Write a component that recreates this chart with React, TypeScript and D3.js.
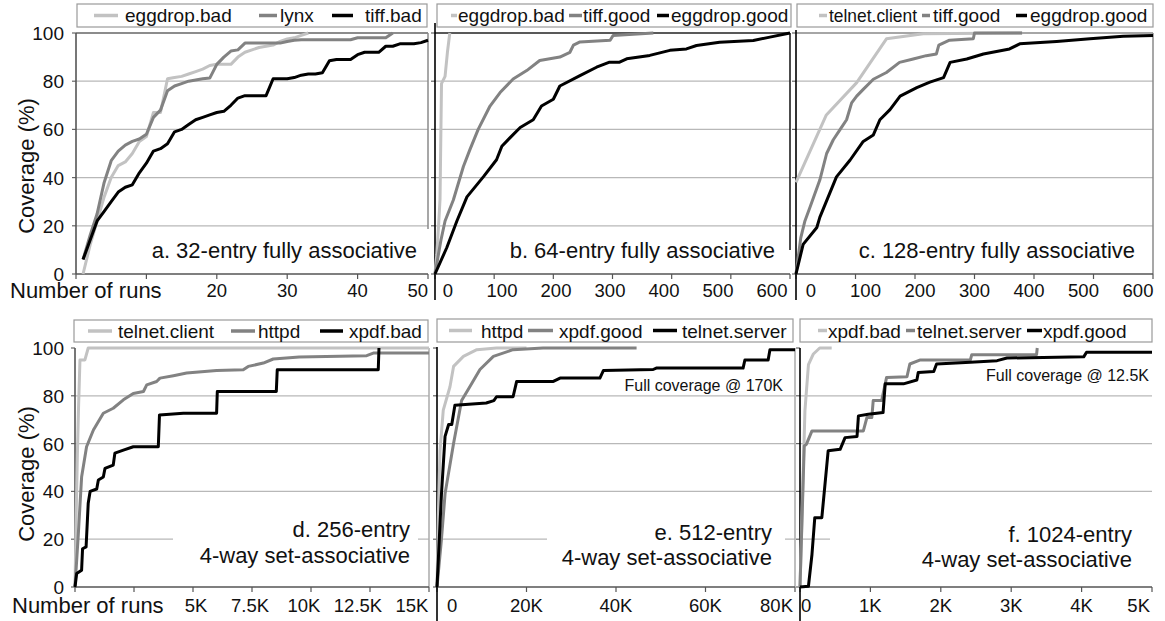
import React from "react";
import * as d3 from "d3";

type Pt = [number, number];

const C_LIGHT = "#c2c2c2";
const C_MID = "#828282";
const C_DARK = "#000000";
const seriesColors = [C_LIGHT, C_MID, C_DARK];

// ---------------- data ----------------
// a. 32-entry fully associative (x = number of runs)
const aEggdropBad: Pt[] = [[1,0],[2,12],[3,22],[4,32],[5,40],[6,45],[7,46.5],[8,50],[9,55],[10,57],[11,67],[12,67],[13,81],[14,81.5],[15,82],[16,83],[17,84],[18,85],[19,86.5],[20,87],[21,87],[22,87],[23,90],[24,92],[25,93],[26,94],[27,94.5],[28,95],[29,96.5],[30,97.5],[31,98],[32,99],[33,100]];
const aLynx: Pt[] = [[1,6],[2,16],[3,25],[4,38],[5,47],[6,51],[7,53.5],[8,55],[9,56],[10,58],[11,65],[12,68],[13,76],[14,78],[15,79],[16,80],[17,80.5],[18,81],[19,81.3],[20,87],[21,90],[22,92.5],[23,93],[24,95.8],[25,95.8],[26,95.8],[27,95.8],[28,95.8],[29,95.8],[30,96.5],[31,97],[32,97.2],[33,97.2],[34,97.2],[35,97.2],[36,97.2],[37,97.2],[38,97.2],[39,97.2],[40,98],[41,98],[42,98],[43,98],[44,98],[45,100]];
const aTiffBad: Pt[] = [[1,6],[2,14],[3,22],[4,26],[5,30],[6,34],[7,36],[8,37],[9,42],[10,46],[11,51],[12,52],[13,54],[14,59],[15,60],[16,62],[17,64],[18,65],[19,66],[20,67],[21,67.5],[22,70],[23,73],[24,74],[25,74],[26,74],[27,74],[28,81],[29,81],[30,81],[31,81.5],[32,82.5],[33,83],[34,83],[35,83.5],[36,88.5],[37,89],[38,89],[39,89],[40,91],[41,92],[42,92],[43,92],[44,94.5],[45,94.5],[46,95.5],[47,95.5],[48,95.5],[49,96],[50,97]];

// b. 64-entry fully associative
const bEggdropBad: Pt[] = [[0,0],[3,8],[6,20],[8.5,31],[10,60],[11,79],[17,82],[21,92],[25,100]];
const bTiffGood: Pt[] = [[0,0],[10,14],[17,22],[31,30.7],[48,44.6],[59,51.6],[73,60],[93,69.7],[110,75.3],[132,80.9],[155,84.4],[177,88.6],[211,90],[228,92],[234,95],[245,96.3],[296,97],[301,99],[369,100]];
const bEggdropGood: Pt[] = [[0,0],[20,11],[37,22],[54,32],[82,40.4],[104,47.4],[113,53],[127,56.6],[144,60.8],[166,64],[180,69.7],[200,72.5],[211,78],[245,82.3],[273,85.8],[295,87.9],[312,87.9],[324,89.3],[363,90.7],[397,92.8],[425,93.4],[442,94.8],[481,96.2],[538,96.9],[566,98.3],[600,100]];

// c. 128-entry fully associative
const cTelnetClient: Pt[] = [[0,38],[51,66],[102,79.4],[152,97.6],[214,99.7],[380,100]];
const cTiffGood: Pt[] = [[0,0],[8,15],[15,22],[23.5,27.7],[40,39],[51.5,50],[62.7,55.7],[74,59.9],[85,64],[93.5,71],[102,73.8],[113,76.6],[130,80.8],[152,83.6],[174,87.8],[197,89.2],[219,90.6],[236,91.3],[240,95],[258,97],[298,97.6],[300,100],[380,100]];
const cEggdropGood: Pt[] = [[0,0],[12,12.3],[35,19.3],[40,23.5],[68,40.3],[91,47.3],[113,55],[130,57.7],[141,64],[158,68.2],[175,73.8],[203,77.3],[225,79.6],[248,81.5],[259,87.8],[287,89.2],[315,91.3],[359,93.4],[376,95.5],[438,96.5],[494,97.6],[550,98.7],[600,99]];

// d. 256-entry 4-way set-associative
const dTelnetClient: Pt[] = [[0,0],[50,30],[100,55],[150,75],[210,95],[420,95],[560,100],[15000,100]];
const dHttpd: Pt[] = [[0,0],[140,22],[280,46],[490,58.7],[780,65.7],[1200,72.7],[1620,74.8],[2050,78.3],[2470,81],[2900,81.8],[3040,84.6],[3460,86],[3600,87.4],[4170,88.4],[4730,89.5],[6000,90.6],[7130,90.9],[7340,92.3],[7980,93.7],[8400,95.4],[9500,96.2],[12360,96.8],[12640,97.9],[15000,97.9]];
const dXpdfBad: Pt[] = [[0,0],[70,5.6],[280,7],[320,16],[470,16.8],[560,35],[640,40],[920,41],[990,44.8],[1200,46],[1270,49.6],[1620,51],[1690,56],[2050,57.3],[2470,58.7],[3530,58.7],[3580,72],[4590,72.7],[6000,72.7],[6030,81.8],[8530,81.8],[8570,90.9],[12850,90.9],[12880,100]];

// e. 512-entry 4-way set-associative
const eHttpd: Pt[] = [[0,0],[300,30],[670,57],[1400,74],[2900,83.8],[3700,92.3],[5900,96.5],[8900,99.3],[13300,100],[20000,100]];
const eXpdfGood: Pt[] = [[0,0],[1000,20],[1800,39],[3700,60],[5500,78],[7400,84],[9600,91],[12600,96.5],[17000,99.3],[23700,100],[44600,100]];
const eTelnetServer: Pt[] = [[0,0],[1000,39],[1800,63],[2600,68],[3300,68],[4000,76],[11000,77],[12700,78],[13300,79.6],[17000,79.6],[17800,86],[26000,86],[27500,87.4],[36400,87.4],[37200,90.6],[48300,91],[49000,91.6],[68400,91.6],[68800,95],[74000,95],[74400,99.3],[80000,99.3]];

// f. 1024-entry 4-way set-associative
const fXpdfBad: Pt[] = [[0,0],[70,73.7],[120,93],[190,97.5],[280,100],[450,100]];
const fTelnetServer: Pt[] = [[0,0],[60,59],[90,59.7],[170,65.3],[900,65.3],[950,70.9],[1020,70.9],[1040,78],[1160,78],[1230,87.7],[1520,88],[1560,93.3],[1710,95],[2420,95],[2440,97.2],[3360,97.2],[3370,100]];
const fXpdfGood: Pt[] = [[0,0],[120,0.3],[170,13.6],[210,29],[310,29],[400,57],[570,57.6],[640,62.5],[810,63],[830,71.6],[970,72.3],[1180,73],[1210,85],[1470,85],[1660,86.6],[1680,89.8],[1900,90.2],[1940,93.3],[2420,94],[2800,94.7],[2940,95.8],[4030,96.3],[4070,98.2],[5000,98.2]];

const aNames = ["eggdrop.bad", "lynx", "tiff.bad"];
const bNames = ["eggdrop.bad", "tiff.good", "eggdrop.good"];
const cNames = ["telnet.client", "tiff.good", "eggdrop.good"];
const dNames = ["telnet.client", "httpd", "xpdf.bad"];
const eNames = ["httpd", "xpdf.good", "telnet.server"];
const fNames = ["xpdf.bad", "telnet.server", "xpdf.good"];

const yTicks = [0, 20, 40, 60, 80, 100];
const yLabels = ["0", "20", "40", "60", "80", "100"];

const aXTicks = [0, 10, 20, 30, 40, 50];
const aXLabels = ["", "", "20", "30", "40", "50"];
const bcXTicks = [0, 100, 200, 300, 400, 500, 600];
const bcXLabels = ["0", "100", "200", "300", "400", "500", "600"];
const dXTicks = [0, 2500, 5000, 7500, 10000, 12500, 15000];
const dXLabels = ["", "", "5K", "7.5K", "10K", "12.5K", "15K"];
const eXTicks = [0, 20000, 40000, 60000, 80000];
const eXLabels = ["0", "20K", "40K", "60K", "80K"];
const fXTicks = [0, 1000, 2000, 3000, 4000, 5000];
const fXLabels = ["0", "1K", "2K", "3K", "4K", "5K"];

const aAnno = ["a. 32-entry fully associative"];
const bAnno = ["b. 64-entry fully associative"];
const cAnno = ["c. 128-entry fully associative"];
const dAnno = ["d. 256-entry", "4-way set-associative"];
const eAnno = ["e. 512-entry", "4-way set-associative"];
const fAnno = ["f. 1024-entry", "4-way set-associative"];

const yTitle = "Coverage (%)";
const xTitle = "Number of runs";

// ---------------- layout ----------------
const FONT = "'Liberation Sans', Arial, Helvetica, sans-serif";

interface Panel {
  series: Pt[][];
  names: string[];
  domain: [number, number];
  x0: number; x1: number; yTop: number; yBot: number;
  xTicks: number[]; xLabels: string[];
  labelMode: "even" | "ticks"; labelSpan?: [number, number]; firstPad?: number; endPad?: number;
  labelBaseline: number;
  legendBox: [number, number, number, number];
  legendItems: [number, number, number][];
  legendTextLen?: (number | null)[];
  legendBaseline: number;
  anno: string[]; annoRight: number; annoBaselines: number[];
  annoRect: [number, number, number, number] | null;
  leftAxis: [string, number, number];
  rightBorder: [string, number, number] | null;
  topBorder: string | null;
  yAxisLabels: boolean;
  full?: [string, number, number];
}

const panels: Panel[] = [
  {
    series: [aEggdropBad, aLynx, aTiffBad], names: aNames, domain: [0, 50],
    x0: 76, x1: 428, yTop: 33, yBot: 274,
    xTicks: aXTicks, xLabels: aXLabels, labelMode: "ticks", endPad: 0, labelBaseline: 297,
    legendBox: [77, 4, 427, 27], legendItems: [[94, 118, 125], [259, 277, 280], [332, 353, 365]],
    legendBaseline: 22,
    anno: aAnno, annoRight: 417, annoBaselines: [258], annoRect: [140, 229, 288, 43],
    leftAxis: ["#555", 33, 274], rightBorder: ["#8a8a8a", 33, 229], topBorder: "#666",
    yAxisLabels: true,
  },
  {
    series: [bEggdropBad, bTiffGood, bEggdropGood], names: bNames, domain: [0, 600],
    x0: 435, x1: 790, yTop: 33, yBot: 274,
    xTicks: bcXTicks, xLabels: bcXLabels, labelMode: "even", labelSpan: [448, 772], labelBaseline: 297,
    legendBox: [437, 4, 791, 27], legendItems: [[451, 457, 458], [569, 582, 583], [657, 669, 671]],
    legendBaseline: 22,
    anno: bAnno, annoRight: 775, annoBaselines: [258], annoRect: [495, 250, 294, 22],
    leftAxis: ["#000", 23, 300], rightBorder: ["#111", 33, 250], topBorder: "#222",
    yAxisLabels: false,
  },
  {
    series: [cTelnetClient, cTiffGood, cEggdropGood], names: cNames, domain: [0, 600],
    x0: 796, x1: 1153, yTop: 33, yBot: 274,
    xTicks: bcXTicks, xLabels: bcXLabels, labelMode: "even", labelSpan: [811, 1138], labelBaseline: 297,
    legendBox: [797, 4, 1153, 27], legendItems: [[819, 827, 829], [922, 930, 933], [1016, 1027, 1030]],
    legendTextLen: [88, null, null],
    legendBaseline: 22,
    anno: cAnno, annoRight: 1135, annoBaselines: [258], annoRect: null,
    leftAxis: ["#000", 30, 300], rightBorder: ["#8a8a8a", 33, 274], topBorder: "#888",
    yAxisLabels: false,
  },
  {
    series: [dTelnetClient, dHttpd, dXpdfBad], names: dNames, domain: [0, 15000],
    x0: 75, x1: 429, yTop: 348, yBot: 587,
    xTicks: dXTicks, xLabels: dXLabels, labelMode: "even", labelSpan: [88, 412], labelBaseline: 612,
    legendBox: [74, 320, 428, 342], legendItems: [[88, 112, 118], [231, 255, 258], [320, 343, 349]],
    legendBaseline: 338,
    anno: dAnno, annoRight: 410, annoBaselines: [537, 563], annoRect: [173, 514, 245, 58],
    leftAxis: ["#555", 348, 587], rightBorder: ["#aaa", 348, 587], topBorder: null,
    yAxisLabels: true,
  },
  {
    series: [eHttpd, eXpdfGood, eTelnetServer], names: eNames, domain: [0, 80000],
    x0: 437, x1: 795, yTop: 348, yBot: 587,
    xTicks: eXTicks, xLabels: eXLabels, labelMode: "ticks", firstPad: 10, endPad: -2, labelBaseline: 612,
    legendBox: [437, 319, 793, 342], legendItems: [[449, 472, 481], [528, 553, 559], [653, 677, 682]],
    legendBaseline: 338,
    anno: eAnno, annoRight: 772, annoBaselines: [540, 565], annoRect: [547, 514, 238, 58],
    leftAxis: ["#000", 347, 621], rightBorder: ["#aaa", 348, 587], topBorder: null,
    yAxisLabels: false,
    full: ["Full coverage @ 170K", 783, 391],
  },
  {
    series: [fXpdfBad, fTelnetServer, fXpdfGood], names: fNames, domain: [0, 5000],
    x0: 800, x1: 1152, yTop: 348, yBot: 587,
    xTicks: fXTicks, xLabels: fXLabels, labelMode: "ticks", firstPad: 1, endPad: -2, labelBaseline: 612,
    legendBox: [800, 319, 1152, 342], legendItems: [[818, 827, 828], [906, 915, 917], [1027, 1042, 1043]],
    legendBaseline: 338,
    anno: fAnno, annoRight: 1132, annoBaselines: [542, 567], annoRect: [830, 514, 327, 58],
    leftAxis: ["#000", 348, 621], rightBorder: null, topBorder: null,
    yAxisLabels: false,
    full: ["Full coverage @ 12.5K", 1149, 381],
  },
];

function PanelView({ p }: { p: Panel }) {
  const xs = d3.scaleLinear().domain(p.domain).range([p.x0, p.x1]);
  const ys = d3.scaleLinear().domain([0, 100]).range([p.yBot, p.yTop]);
  const line = d3.line<Pt>().x((d) => xs(d[0])).y((d) => ys(d[1]));
  const evenPos = p.labelSpan
    ? d3.scaleLinear().domain([0, p.xTicks.length - 1]).range(p.labelSpan)
    : null;
  const n = p.xTicks.length;

  return (
    <g>
      {/* gridlines */}
      {yTicks.filter((t) => t > 0 && t < 100).map((t) => (
        <line key={"g" + t} x1={p.x0} x2={p.x1} y1={ys(t)} y2={ys(t)} stroke="#b8b8b8" strokeWidth={1.2} />
      ))}
      {/* annotation background */}
      {p.annoRect && (
        <rect x={p.annoRect[0]} y={p.annoRect[1]} width={p.annoRect[2]} height={p.annoRect[3]} fill="#fff" />
      )}
      {/* top border */}
      {p.topBorder && (
        <line x1={p.x0} x2={p.x1} y1={ys(100)} y2={ys(100)} stroke={p.topBorder} strokeWidth={1.5} />
      )}
      {/* right border */}
      {p.rightBorder && (
        <line x1={p.x1} x2={p.x1} y1={p.rightBorder[1]} y2={p.rightBorder[2]} stroke={p.rightBorder[0]} strokeWidth={1.5} />
      )}
      {/* y ticks */}
      {yTicks.map((t) => (
        <line key={"yt" + t} x1={p.x0 - 4} x2={p.x0} y1={ys(t)} y2={ys(t)} stroke="#666" strokeWidth={1.2} />
      ))}
      {/* x axis */}
      <line x1={p.x0} x2={p.x1} y1={p.yBot} y2={p.yBot} stroke="#555" strokeWidth={1.5} />
      {p.xTicks.map((t) => (
        <line key={"xt" + t} x1={xs(t)} x2={xs(t)} y1={p.yBot} y2={p.yBot + 5} stroke="#555" strokeWidth={1.2} />
      ))}
      {/* x tick labels */}
      {p.xLabels.map((lab, i) => {
        if (!lab) return null;
        let x = xs(p.xTicks[i]);
        let anchor: "middle" | "start" | "end" = "middle";
        if (p.labelMode === "even" && evenPos) {
          x = evenPos(i);
        } else {
          if (i === 0 && p.firstPad !== undefined) {
            x = p.x0 + p.firstPad;
            anchor = "start";
          } else if (i === n - 1 && p.endPad !== undefined) {
            x = p.x1 + p.endPad;
            anchor = "end";
          }
        }
        return (
          <text key={"xl" + i} x={x} y={p.labelBaseline} fontSize={18.5} textAnchor={anchor} fill="#111">
            {lab}
          </text>
        );
      })}
      {/* y labels */}
      {p.yAxisLabels &&
        yTicks.map((t, i) => (
          <text key={"yl" + t} x={64} y={ys(t) + 7} fontSize={19} textAnchor="end" fill="#111">
            {yLabels[i]}
          </text>
        ))}
      {/* left axis */}
      <line x1={p.x0} x2={p.x0} y1={p.leftAxis[1]} y2={p.leftAxis[2]} stroke={p.leftAxis[0]} strokeWidth={1.6} />
      {/* series */}
      {p.series.map((s, i) => (
        <path key={"s" + i} d={line(s) || ""} fill="none" stroke={seriesColors[i]} strokeWidth={3}
          strokeLinejoin="round" strokeLinecap="butt" />
      ))}
      {/* annotation */}
      {p.anno.map((txt, i) => (
        <text key={"an" + i} x={p.annoRight} y={p.annoBaselines[i]} fontSize={22} textAnchor="end" fill="#111">
          {txt}
        </text>
      ))}
      {p.full && (
        <text x={p.full[1]} y={p.full[2]} fontSize={16} textAnchor="end" fill="#111">
          {p.full[0]}
        </text>
      )}
      {/* legend */}
      <rect x={p.legendBox[0]} y={p.legendBox[1]} width={p.legendBox[2] - p.legendBox[0]}
        height={p.legendBox[3] - p.legendBox[1]} fill="#fff" stroke="#9a9a9a" strokeWidth={1.2} />
      {p.legendItems.map((it, i) => {
        const ly = (p.legendBox[1] + p.legendBox[3]) / 2;
        const tl = p.legendTextLen ? p.legendTextLen[i] : null;
        return (
          <g key={"lg" + i}>
            <line x1={it[0]} x2={it[1]} y1={ly} y2={ly} stroke={seriesColors[i]} strokeWidth={3.5} />
            <text x={it[2]} y={p.legendBaseline} fontSize={19} fill="#111"
              {...(tl ? { textLength: tl, lengthAdjust: "spacingAndGlyphs" } : {})}>
              {p.names[i]}
            </text>
          </g>
        );
      })}
    </g>
  );
}

export default function App() {
  return (
    <svg width={1165} height={621} viewBox="0 0 1165 621"
      style={{ position: "absolute", left: 0, top: 0, background: "#fff", fontFamily: FONT }}>
      <rect x={0} y={0} width={1165} height={621} fill="#fff" />
      {panels.map((p, i) => (
        <PanelView key={i} p={p} />
      ))}
      {/* axis titles */}
      <text transform="translate(34,166) rotate(-90)" fontSize={22} textAnchor="middle" fill="#111">{yTitle}</text>
      <text transform="translate(34,474) rotate(-90)" fontSize={22} textAnchor="middle" fill="#111">{yTitle}</text>
      <rect x={4} y={281} width={166} height={22} fill="#fff" />
      <text x={10} y={298} fontSize={22} fill="#111">{xTitle}</text>
      <rect x={4} y={596} width={166} height={23} fill="#fff" />
      <text x={12} y={613} fontSize={22} fill="#111">{xTitle}</text>
    </svg>
  );
}
